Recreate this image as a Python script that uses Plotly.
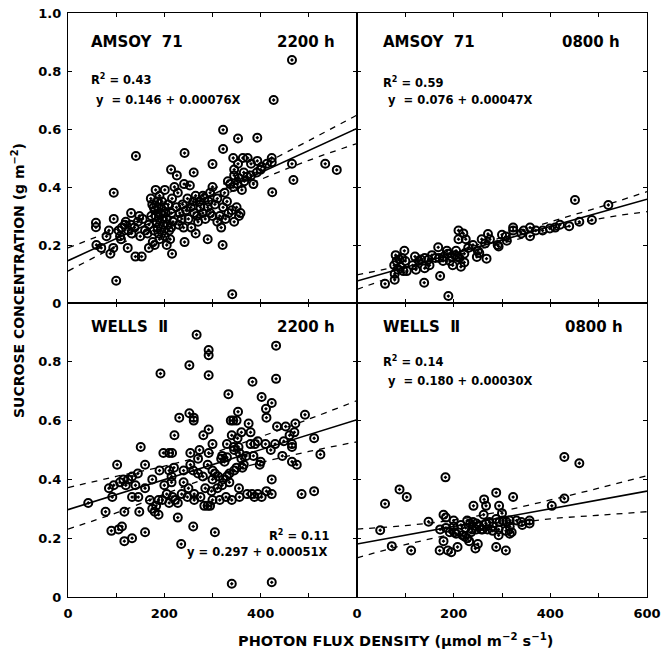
import plotly.graph_objects as go
from plotly.subplots import make_subplots

# ---------------- data ----------------
# Panel A: AMSOY 71, 2200 h
a22_x = [465,427,141,242,322,353,393,322,300,343,353,363,373,393,423,423,413,465,468,534,558,424,372,392,337,344,352,361,300,283,273,292,261,241,253,214,226,221,201,182,216,95,58,58,95,131,110,94,88,124,140,153,100,168,180,216,205,242,265,290,321,341,59,69,
         105,112,118,125,130,138,145,150,160,132,120,108,80,85,155,148,
         172,175,178,180,182,184,186,188,190,185,188,192,195,197,199,201,190,195,200,203,205,207,210,212,178,173,168,165,176,208,215,218,214,
         225,232,238,245,250,255,260,262,268,275,280,285,290,295,300,305,310,315,318,322,327,333,340,345,350,355,358,230,240,256,270,248,265,280,295,310,325,332,345,355,365,380,400,385,366,402,380,345,330,228,236]
a22_y = [0.838,0.70,0.507,0.517,0.597,0.567,0.57,0.531,0.479,0.50,0.48,0.50,0.50,0.49,0.50,0.485,0.48,0.48,0.424,0.48,0.459,0.382,0.435,0.45,0.41,0.40,0.41,0.39,0.40,0.361,0.35,0.35,0.45,0.41,0.405,0.46,0.44,0.40,0.39,0.39,0.36,0.38,0.277,0.261,0.29,0.31,0.22,0.19,0.17,0.19,0.16,0.16,0.077,0.19,0.20,0.17,0.20,0.21,0.24,0.22,0.20,0.03,0.20,0.19,
         0.25,0.26,0.27,0.25,0.27,0.26,0.28,0.23,0.25,0.24,0.28,0.23,0.23,0.25,0.29,0.30,
         0.36,0.34,0.33,0.32,0.30,0.28,0.26,0.24,0.22,0.35,0.33,0.31,0.29,0.27,0.25,0.23,0.37,0.35,0.33,0.31,0.29,0.27,0.25,0.22,0.25,0.30,0.27,0.24,0.21,0.34,0.31,0.28,0.26,
         0.33,0.31,0.34,0.32,0.29,0.33,0.35,0.31,0.30,0.33,0.31,0.29,0.33,0.31,0.30,0.34,0.28,0.30,0.26,0.33,0.29,0.31,0.32,0.28,0.33,0.30,0.31,0.27,0.26,0.26,0.28,0.36,0.37,0.37,0.38,0.36,0.38,0.42,0.44,0.43,0.45,0.44,0.46,0.41,0.42,0.47,0.48,0.46,0.35,0.38,0.29]

# Panel B: AMSOY 71, 0800 h
a08_x = [451,520,486,439,399,384,358,358,323,323,308,291,293,271,258,265,248,268,250,253,220,210,225,210,205,208,222,222,186,189,172,168,139,58,78,78,98,82,88,100,77,90,96,103,85,93,80,120,115,122,132,140,148,128,155,162,150,140,180,188,196,203,212,198,215,178,192,170,230,240,275,300,310,340,345,370,410,460,420]
a08_y = [0.355,0.338,0.286,0.265,0.257,0.25,0.26,0.23,0.26,0.25,0.229,0.20,0.195,0.238,0.22,0.205,0.159,0.153,0.18,0.172,0.24,0.22,0.22,0.25,0.18,0.16,0.17,0.14,0.18,0.024,0.093,0.192,0.07,0.066,0.08,0.10,0.18,0.145,0.15,0.145,0.13,0.125,0.11,0.11,0.115,0.155,0.165,0.16,0.13,0.115,0.15,0.155,0.15,0.145,0.165,0.155,0.13,0.12,0.16,0.17,0.16,0.165,0.155,0.13,0.125,0.145,0.145,0.155,0.19,0.20,0.22,0.235,0.215,0.24,0.25,0.25,0.26,0.28,0.27]

# Panel C: WELLS II, 2200 h
w22_x = [267,292,292,252,292,192,432,432,383,333,402,423,411,492,472,452,434,353,338,343,350,292,261,261,252,231,281,221,151,102,160,198,210,216,273,254,254,292,320,330,344,354,356,379,379,388,394,421,465,465,465,475,485,511,511,524,423,423,412,394,402,382,387,372,356,355,362,340,328,315,300,290,295,283,275,262,262,248,236,228,222,217,210,205,196,188,183,180,188,228,235,260,305,160,133,117,112,105,90,117,148,78,92,42,133,146,120,115,125,133,85,95,340,423,
         300,305,312,322,330,335,345,350,360,365,370,345,325,318,300,290,280,270,260,310,298,285,320,335,250,240,215,210,220,215,200,170,175,190,175,160,140,145,108,400,410,385,445,448,460,470,430,412,360,375,340,330,300,270,240,352,398]
w22_y = [0.892,0.84,0.822,0.788,0.754,0.76,0.855,0.742,0.732,0.69,0.68,0.66,0.64,0.62,0.59,0.58,0.58,0.63,0.60,0.60,0.60,0.57,0.61,0.60,0.625,0.61,0.55,0.55,0.51,0.45,0.45,0.49,0.49,0.49,0.50,0.49,0.45,0.49,0.48,0.475,0.51,0.51,0.49,0.56,0.52,0.52,0.53,0.50,0.51,0.52,0.46,0.45,0.35,0.36,0.54,0.485,0.35,0.40,0.36,0.35,0.34,0.35,0.34,0.35,0.34,0.37,0.44,0.33,0.34,0.33,0.33,0.31,0.31,0.31,0.34,0.35,0.33,0.34,0.35,0.32,0.33,0.34,0.32,0.35,0.33,0.33,0.31,0.29,0.28,0.27,0.18,0.24,0.22,0.22,0.20,0.19,0.24,0.23,0.225,0.29,0.29,0.29,0.34,0.32,0.34,0.34,0.38,0.40,0.40,0.41,0.37,0.38,0.045,0.05,
         0.40,0.42,0.41,0.40,0.41,0.42,0.43,0.44,0.47,0.45,0.48,0.50,0.46,0.47,0.43,0.45,0.41,0.42,0.43,0.37,0.36,0.37,0.38,0.39,0.37,0.39,0.41,0.43,0.44,0.39,0.38,0.33,0.30,0.43,0.40,0.37,0.38,0.42,0.39,0.46,0.52,0.48,0.48,0.53,0.55,0.56,0.52,0.61,0.56,0.59,0.55,0.52,0.52,0.47,0.43,0.54,0.45]

# Panel D: WELLS II, 0800 h
w08_x = [429,460,183,88,103,58,288,323,263,267,294,241,429,403,148,48,72,112,171,188,195,208,179,245,250,288,308,293,179,184,172,184,192,202,205,218,223,228,232,236,228,234,240,247,253,260,267,274,281,288,295,302,309,316,316,316,330,340,342,357,357,225,238,247,257,270,281,293,308,320,215,200,262,300,200]
w08_y = [0.476,0.455,0.407,0.366,0.34,0.317,0.355,0.34,0.332,0.31,0.31,0.31,0.335,0.31,0.256,0.227,0.173,0.158,0.158,0.158,0.152,0.17,0.19,0.165,0.18,0.17,0.158,0.21,0.28,0.27,0.23,0.235,0.22,0.22,0.215,0.21,0.205,0.20,0.19,0.22,0.26,0.25,0.255,0.25,0.24,0.23,0.25,0.255,0.24,0.265,0.255,0.26,0.255,0.26,0.24,0.215,0.26,0.255,0.245,0.26,0.25,0.235,0.23,0.23,0.23,0.23,0.225,0.23,0.225,0.22,0.245,0.24,0.28,0.285,0.26]

# regression lines (intercept, slope) and confidence bands
band_x = [0, 100, 200, 300, 400, 500, 600]
a22_fit = (0.146, 0.00076)
a22_up = [0.19, 0.254, 0.32, 0.392, 0.474, 0.56, 0.648]
a22_lo = [0.11, 0.196, 0.278, 0.356, 0.426, 0.492, 0.55]
a08_fit = (0.076, 0.00047)
a08_up = [0.097, 0.132, 0.176, 0.226, 0.28, 0.33, 0.384]
a08_lo = [0.047, 0.106, 0.162, 0.206, 0.248, 0.29, 0.315]
w22_fit = (0.297, 0.00051)
w22_up = [0.372, 0.41, 0.445, 0.49, 0.545, 0.605, 0.668]
w22_lo = [0.231, 0.286, 0.35, 0.41, 0.457, 0.495, 0.528]
w08_fit = (0.180, 0.00030)
w08_up = [0.231, 0.243, 0.262, 0.292, 0.33, 0.37, 0.413]
w08_lo = [0.133, 0.178, 0.214, 0.244, 0.266, 0.278, 0.29]

x_tickvals = [0, 100, 200, 300, 400, 500, 600]
x_text_left = ["0", "", "200", "", "400", "", ""]
x_text_right = ["0", "", "200", "", "400", "", "600"]
y_tickvals = [0, 0.2, 0.4, 0.6, 0.8, 1.0]
y_text_top = ["0", "0.2", "0.4", "0.6", "0.8", "1.0"]
y_text_bot = ["0", "0.2", "0.4", "0.6", "0.8", ""]

# ---------------- figure ----------------
FONT = "DejaVu Sans, Liberation Sans, sans-serif"
fig = make_subplots(rows=2, cols=2, horizontal_spacing=0, vertical_spacing=0)

panels = [
    (1, 1, a22_x, a22_y, a22_fit, a22_up, a22_lo),
    (1, 2, a08_x, a08_y, a08_fit, a08_up, a08_lo),
    (2, 1, w22_x, w22_y, w22_fit, w22_up, w22_lo),
    (2, 2, w08_x, w08_y, w08_fit, w08_up, w08_lo),
]
for r, c, xs, ys, fit, up, lo in panels:
    fig.add_trace(go.Scatter(x=xs, y=ys, mode="markers",
                             marker=dict(symbol="circle-open-dot", size=8, color="black",
                                         line=dict(width=2, color="black")),
                             showlegend=False, hoverinfo="skip"), row=r, col=c)
    fig.add_trace(go.Scatter(x=[band_x[0], band_x[-1]],
                             y=[fit[0] + fit[1] * band_x[0], fit[0] + fit[1] * band_x[-1]],
                             mode="lines", line=dict(color="black", width=1.6),
                             showlegend=False, hoverinfo="skip"), row=r, col=c)
    for band in (up, lo):
        fig.add_trace(go.Scatter(x=band_x, y=band, mode="lines",
                                 line=dict(color="black", width=1.3, dash="6px,6px", shape="spline"),
                                 showlegend=False, hoverinfo="skip"), row=r, col=c)

xl, xm, xr = 68 / 670, 357 / 670, 647 / 670
yt, ym, yb = 1 - 13 / 655, 1 - 303 / 655, 1 - 597 / 655

axis_common = dict(showline=True, linecolor="black", linewidth=1.4, mirror="allticks",
                   ticks="inside", ticklen=4, tickwidth=1.2, tickcolor="black",
                   showgrid=False, zeroline=False, automargin=False,
                   tickfont=dict(family=FONT, size=13, color="black", weight="bold"))

fig.update_layout(
    xaxis=dict(domain=[xl, xm], range=[0, 600], tickvals=x_tickvals, ticktext=x_text_left,
               showticklabels=False, **axis_common),
    xaxis2=dict(domain=[xm, xr], range=[0, 600], tickvals=x_tickvals, ticktext=x_text_right,
                showticklabels=False, **axis_common),
    xaxis3=dict(domain=[xl, xm], range=[0, 600], tickvals=x_tickvals, ticktext=x_text_left,
                ticklabelstandoff=4, **axis_common),
    xaxis4=dict(domain=[xm, xr], range=[0, 600], tickvals=x_tickvals, ticktext=x_text_right,
                ticklabelstandoff=4, **axis_common),
    yaxis=dict(domain=[ym, yt], range=[0, 1.0], tickvals=y_tickvals, ticktext=y_text_top,
               ticklabelstandoff=3, **axis_common),
    yaxis2=dict(domain=[ym, yt], range=[0, 1.0], tickvals=y_tickvals, showticklabels=False,
                **axis_common),
    yaxis3=dict(domain=[yb, ym], range=[0, 1.0], tickvals=y_tickvals, ticktext=y_text_bot,
                ticklabelstandoff=3, **axis_common),
    yaxis4=dict(domain=[yb, ym], range=[0, 1.0], tickvals=y_tickvals, showticklabels=False,
                **axis_common),
    width=670, height=655, margin=dict(l=0, r=0, t=0, b=0, autoexpand=False),
    paper_bgcolor="white", plot_bgcolor="white",
)

def ann(xref, yref, x, y, text, size, xanchor="left"):
    fig.add_annotation(xref=xref, yref=yref, x=x, y=y, text=text, showarrow=False,
                       xanchor=xanchor, yanchor="middle",
                       font=dict(family=FONT, size=size, color="black", weight="bold"))

TS, ES = 15, 11.5
# Panel A
ann("x domain", "y domain", 0.073, 0.90, "AMSOY  71", TS)
ann("x domain", "y domain", 0.93, 0.90, "2200 h", TS, "right")
ann("x domain", "y domain", 0.073, 0.77, "R<sup>2</sup> = 0.43", ES)
ann("x domain", "y domain", 0.090, 0.70, "y  = 0.146 + 0.00076X", ES)
# Panel B
ann("x2 domain", "y2 domain", 0.083, 0.90, "AMSOY  71", TS)
ann("x2 domain", "y2 domain", 0.914, 0.90, "0800 h", TS, "right")
ann("x2 domain", "y2 domain", 0.083, 0.762, "R<sup>2</sup> = 0.59", ES)
ann("x2 domain", "y2 domain", 0.10, 0.70, "y  = 0.076 + 0.00047X", ES)
# Panel C
ann("x3 domain", "y3 domain", 0.073, 0.918, "WELLS  Ⅱ", TS)
ann("x3 domain", "y3 domain", 0.93, 0.918, "2200 h", TS, "right")
ann("x3 domain", "y3 domain", 0.913, 0.21, "R<sup>2</sup> = 0.11", ES, "right")
ann("x3 domain", "y3 domain", 0.906, 0.153, "y = 0.297 + 0.00051X", ES, "right")
# Panel D
ann("x4 domain", "y4 domain", 0.083, 0.918, "WELLS  Ⅱ", TS)
ann("x4 domain", "y4 domain", 0.924, 0.918, "0800 h", TS, "right")
ann("x4 domain", "y4 domain", 0.083, 0.80, "R<sup>2</sup> = 0.14", ES)
ann("x4 domain", "y4 domain", 0.10, 0.735, "y  = 0.180 + 0.00030X", ES)

# axis titles
fig.add_annotation(xref="paper", yref="paper", x=18 / 670, y=1 - 281 / 655,
                   text="SUCROSE CONCENTRATION (g m<sup>−2</sup>)", textangle=-90,
                   showarrow=False, xanchor="center", yanchor="middle",
                   font=dict(family=FONT, size=14, color="black", weight="bold"))
fig.add_annotation(xref="paper", yref="paper", x=395 / 670, y=1 - 640 / 655,
                   text="PHOTON FLUX DENSITY (μmol m<sup>−2</sup> s<sup>−1</sup>)",
                   showarrow=False, xanchor="center", yanchor="middle",
                   font=dict(family=FONT, size=14.5, color="black", weight="bold"))

fig.write_html("out.html", config={"displayModeBar": False},
               post_script="document.body.style.margin='0';document.body.style.overflow='hidden';")
